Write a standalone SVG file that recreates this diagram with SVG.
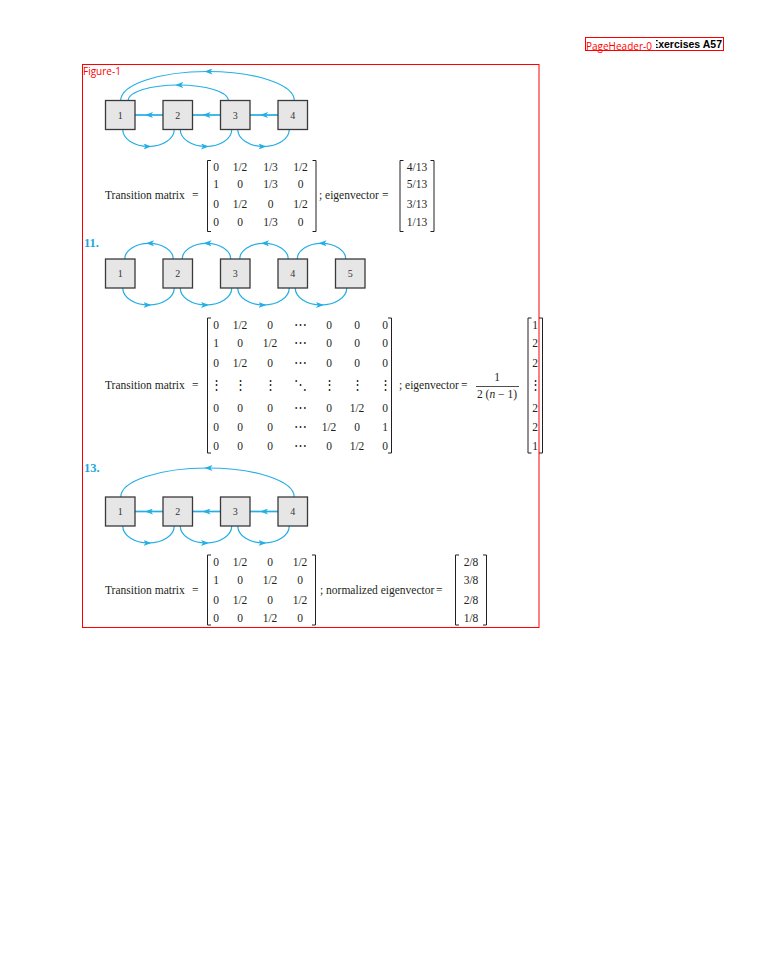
<svg xmlns="http://www.w3.org/2000/svg" width="768" height="960" viewBox="0 0 768 960">
<defs>
<style>
.bx{fill:#e6e6e6;stroke:#3a3a3a;stroke-width:1.3}
.nl{font-family:"Liberation Serif","DejaVu Serif",serif;font-size:10px;fill:#333;text-anchor:middle}
.cn{fill:none;stroke:#23aee6;stroke-width:1.2;marker-mid:url(#ah)}
.st{fill:none;stroke:#23aee6;stroke-width:1.7;marker-mid:url(#ah)}
.m{font-family:"Liberation Serif","DejaVu Serif",serif;font-size:11.5px;fill:#231f20}
.c{text-anchor:middle}
.dt{font-family:"DejaVu Serif","Liberation Serif",serif;font-size:13px;fill:#231f20;text-anchor:middle}
.br{fill:none;stroke:#231f20;stroke-width:1}
.num{font-family:"Liberation Serif","DejaVu Serif",serif;font-size:12.5px;font-weight:bold;fill:#1ca7e0}
.ann{fill:none;stroke:#ff0000;stroke-width:1}
.al{font-family:"Open Sans","DejaVu Sans",sans-serif;font-size:10px;fill:#ff0000}
</style>
<marker id="ah" viewBox="0 0 8 6" refX="5" refY="3" markerWidth="8" markerHeight="6" markerUnits="userSpaceOnUse" orient="auto">
<path d="M0,0 L8,3 L0,6 L2,3 Z" fill="#23aee6"/>
</marker>
</defs>
<rect width="768" height="960" fill="#ffffff"/>

<!-- page header -->
<g id="page-header">
<text x="722" y="47.5" font-family="Liberation Sans, Arial, sans-serif" font-size="10.5" font-weight="bold" fill="#000" text-anchor="end">Exercises  A57</text>
<rect x="586" y="40" width="70" height="12" fill="#ffffff"/>
<text class="al" x="586" y="50">PageHeader-0</text>
<rect class="ann" x="585.5" y="37.5" width="138" height="13"/>
</g>

<!-- figure frame -->
<g id="figure-frame">
<rect class="ann" x="82.5" y="64.5" width="456.5" height="563"/>
<text class="al" x="83" y="75">Figure-1</text>
</g>

<!-- connectors -->
<g id="connectors">
<!-- graph 1 -->
<path class="cn" d="M122.75,129.5 C122.75,138.9 134.3,146.5 148.5,146.5 C162.7,146.5 174.25,138.9 174.25,129.5"/>
<path class="cn" d="M180.25,129.5 C180.25,138.9 191.8,146.5 206,146.5 C220.2,146.5 231.75,138.9 231.75,129.5"/>
<path class="cn" d="M237.75,129.5 C237.75,138.9 249.3,146.5 263.5,146.5 C277.7,146.5 289.25,138.9 289.25,129.5"/>
<path class="st" d="M278,115 L263,115 L250,115"/>
<path class="st" d="M220.5,115 L205.5,115 L192.5,115"/>
<path class="st" d="M163,115 L148,115 L135,115"/>
<path class="cn" d="M294.25,100.5 C294.25,84.5 255.4,71.5 207.5,71.5 C159.6,71.5 120.75,84.5 120.75,100.5"/>
<path class="cn" d="M228.25,100.5 C228.25,91.9 205.9,85 178.25,85 C150.6,85 128.25,91.9 128.25,100.5"/>
<!-- graph 2 -->
<path class="cn" d="M173.25,259 C173.25,250.3 162.4,243.3 149,243.3 C135.6,243.3 124.75,250.3 124.75,259"/>
<path class="cn" d="M230.75,259 C230.75,250.3 219.9,243.3 206.5,243.3 C193.1,243.3 182.25,250.3 182.25,259"/>
<path class="cn" d="M288.25,259 C288.25,250.3 277.4,243.3 264,243.3 C250.6,243.3 239.75,250.3 239.75,259"/>
<path class="cn" d="M345.75,259 C345.75,250.3 334.9,243.3 321.5,243.3 C308.1,243.3 297.25,250.3 297.25,259"/>
<path class="cn" d="M122.75,288 C122.75,297.4 134.3,305 148.5,305 C162.7,305 174.25,297.4 174.25,288"/>
<path class="cn" d="M180.25,288 C180.25,297.4 191.8,305 206,305 C220.2,305 231.75,297.4 231.75,288"/>
<path class="cn" d="M237.75,288 C237.75,297.4 249.3,305 263.5,305 C277.7,305 289.25,297.4 289.25,288"/>
<path class="cn" d="M295.25,288 C295.25,297.4 306.8,305 321,305 C335.2,305 346.75,297.4 346.75,288"/>
<!-- graph 3 -->
<path class="cn" d="M122.75,526 C122.75,535.4 134.3,543 148.5,543 C162.7,543 174.25,535.4 174.25,526"/>
<path class="cn" d="M180.25,526 C180.25,535.4 191.8,543 206,543 C220.2,543 231.75,535.4 231.75,526"/>
<path class="cn" d="M237.75,526 C237.75,535.4 249.3,543 263.5,543 C277.7,543 289.25,535.4 289.25,526"/>
<path class="st" d="M278,511.5 L263,511.5 L250,511.5"/>
<path class="st" d="M220.5,511.5 L205.5,511.5 L192.5,511.5"/>
<path class="st" d="M163,511.5 L148,511.5 L135,511.5"/>
<path class="cn" d="M294.25,497 C294.25,481 255.4,468 207.5,468 C159.6,468 120.75,481 120.75,497"/>
</g>

<!-- graph 1 nodes -->
<g id="g1-n1"><rect class="bx" x="105.5" y="100.5" width="29.5" height="29"/><text class="nl" x="120.25" y="118.5">1</text></g>
<g id="g1-n2"><rect class="bx" x="163" y="100.5" width="29.5" height="29"/><text class="nl" x="177.75" y="118.5">2</text></g>
<g id="g1-n3"><rect class="bx" x="220.5" y="100.5" width="29.5" height="29"/><text class="nl" x="235.25" y="118.5">3</text></g>
<g id="g1-n4"><rect class="bx" x="278" y="100.5" width="29.5" height="29"/><text class="nl" x="292.75" y="118.5">4</text></g>

<!-- matrix 1 -->
<g id="matrix-1">
<text class="m" x="105" y="198.5">Transition matrix</text><text class="m" x="192" y="198.5">=</text>
<path class="br" d="M211,160.5 H207.5 V231.5 H211"/>
<path class="br" d="M312.5,160.5 H316 V231.5 H312.5"/>
<text class="m c" x="216" y="171">0</text><text class="m c" x="240" y="171">1/2</text><text class="m c" x="270.5" y="171">1/3</text><text class="m c" x="300.5" y="171">1/2</text>
<text class="m c" x="216" y="188">1</text><text class="m c" x="240" y="188">0</text><text class="m c" x="270.5" y="188">1/3</text><text class="m c" x="300.5" y="188">0</text>
<text class="m c" x="216" y="208">0</text><text class="m c" x="240" y="208">1/2</text><text class="m c" x="270.5" y="208">0</text><text class="m c" x="300.5" y="208">1/2</text>
<text class="m c" x="216" y="225.5">0</text><text class="m c" x="240" y="225.5">0</text><text class="m c" x="270.5" y="225.5">1/3</text><text class="m c" x="300.5" y="225.5">0</text>
<text class="m" x="319" y="198.5">; eigenvector</text><text class="m" x="382" y="198.5">=</text>
<path class="br" d="M403.5,160.5 H400 V231.5 H403.5"/>
<path class="br" d="M430.5,160.5 H434 V231.5 H430.5"/>
<text class="m c" x="417" y="171">4/13</text>
<text class="m c" x="417" y="188">5/13</text>
<text class="m c" x="417" y="208">3/13</text>
<text class="m c" x="417" y="225.5">1/13</text>
</g>

<!-- exercise 11 -->
<text class="num" x="84" y="247">11.</text>
<g id="g2-n1"><rect class="bx" x="105.5" y="259" width="29.5" height="29"/><text class="nl" x="120.25" y="277">1</text></g>
<g id="g2-n2"><rect class="bx" x="163" y="259" width="29.5" height="29"/><text class="nl" x="177.75" y="277">2</text></g>
<g id="g2-n3"><rect class="bx" x="220.5" y="259" width="29.5" height="29"/><text class="nl" x="235.25" y="277">3</text></g>
<g id="g2-n4"><rect class="bx" x="278" y="259" width="29.5" height="29"/><text class="nl" x="292.75" y="277">4</text></g>
<g id="g2-n5"><rect class="bx" x="335.5" y="259" width="29.5" height="29"/><text class="nl" x="350.25" y="277">5</text></g>

<!-- matrix 2 -->
<g id="matrix-2">
<text class="m" x="105" y="389">Transition matrix</text><text class="m" x="192" y="389">=</text>
<path class="br" d="M211,318 H207.5 V453 H211"/>
<path class="br" d="M388,318 H391.5 V453 H388"/>
<text class="m c" x="216" y="329">0</text><text class="m c" x="240" y="329">1/2</text><text class="m c" x="270" y="329">0</text><text class="dt" x="300" y="329">⋯</text><text class="m c" x="329" y="329">0</text><text class="m c" x="357" y="329">0</text><text class="m c" x="385" y="329">0</text>
<text class="m c" x="216" y="346.5">1</text><text class="m c" x="240" y="346.5">0</text><text class="m c" x="270" y="346.5">1/2</text><text class="dt" x="300" y="346.5">⋯</text><text class="m c" x="329" y="346.5">0</text><text class="m c" x="357" y="346.5">0</text><text class="m c" x="385" y="346.5">0</text>
<text class="m c" x="216" y="366.5">0</text><text class="m c" x="240" y="366.5">1/2</text><text class="m c" x="270" y="366.5">0</text><text class="dt" x="300" y="366.5">⋯</text><text class="m c" x="329" y="366.5">0</text><text class="m c" x="357" y="366.5">0</text><text class="m c" x="385" y="366.5">0</text>
<text class="dt" x="216" y="389">⋮</text><text class="dt" x="240" y="389">⋮</text><text class="dt" x="270" y="389">⋮</text><text class="dt" x="300" y="389">⋱</text><text class="dt" x="329" y="389">⋮</text><text class="dt" x="357" y="389">⋮</text><text class="dt" x="385" y="389">⋮</text>
<text class="m c" x="216" y="411.5">0</text><text class="m c" x="240" y="411.5">0</text><text class="m c" x="270" y="411.5">0</text><text class="dt" x="300" y="411.5">⋯</text><text class="m c" x="329" y="411.5">0</text><text class="m c" x="357" y="411.5">1/2</text><text class="m c" x="385" y="411.5">0</text>
<text class="m c" x="216" y="431">0</text><text class="m c" x="240" y="431">0</text><text class="m c" x="270" y="431">0</text><text class="dt" x="300" y="431">⋯</text><text class="m c" x="329" y="431">1/2</text><text class="m c" x="357" y="431">0</text><text class="m c" x="385" y="431">1</text>
<text class="m c" x="216" y="450">0</text><text class="m c" x="240" y="450">0</text><text class="m c" x="270" y="450">0</text><text class="dt" x="300" y="450">⋯</text><text class="m c" x="329" y="450">0</text><text class="m c" x="357" y="450">1/2</text><text class="m c" x="385" y="450">0</text>
<text class="m" x="399" y="389">; eigenvector</text><text class="m" x="461" y="389">=</text>
<text class="m c" x="497" y="381">1</text>
<line x1="476" y1="386.5" x2="519" y2="386.5" stroke="#231f20" stroke-width="0.8"/>
<text class="m c" x="497" y="398">2 (<tspan font-style="italic">n</tspan> − 1)</text>
<path class="br" d="M531.5,318 H528 V453 H531.5"/>
<path class="br" d="M539,318 H542.5 V453 H539"/>
<text class="m c" x="535" y="329">1</text>
<text class="m c" x="535" y="346.5">2</text>
<text class="m c" x="535" y="366.5">2</text>
<text class="dt" x="535" y="389">⋮</text>
<text class="m c" x="535" y="411.5">2</text>
<text class="m c" x="535" y="431">2</text>
<text class="m c" x="535" y="450">1</text>
</g>

<!-- exercise 13 -->
<text class="num" x="84" y="472">13.</text>
<g id="g3-n1"><rect class="bx" x="105.5" y="497" width="29.5" height="29"/><text class="nl" x="120.25" y="515">1</text></g>
<g id="g3-n2"><rect class="bx" x="163" y="497" width="29.5" height="29"/><text class="nl" x="177.75" y="515">2</text></g>
<g id="g3-n3"><rect class="bx" x="220.5" y="497" width="29.5" height="29"/><text class="nl" x="235.25" y="515">3</text></g>
<g id="g3-n4"><rect class="bx" x="278" y="497" width="29.5" height="29"/><text class="nl" x="292.75" y="515">4</text></g>

<!-- matrix 3 -->
<g id="matrix-3">
<text class="m" x="105" y="594">Transition matrix</text><text class="m" x="192" y="594">=</text>
<path class="br" d="M211,555 H207.5 V625 H211"/>
<path class="br" d="M312,555 H315.5 V625 H312"/>
<text class="m c" x="216" y="566">0</text><text class="m c" x="240" y="566">1/2</text><text class="m c" x="270" y="566">0</text><text class="m c" x="300" y="566">1/2</text>
<text class="m c" x="216" y="583.5">1</text><text class="m c" x="240" y="583.5">0</text><text class="m c" x="270" y="583.5">1/2</text><text class="m c" x="300" y="583.5">0</text>
<text class="m c" x="216" y="604">0</text><text class="m c" x="240" y="604">1/2</text><text class="m c" x="270" y="604">0</text><text class="m c" x="300" y="604">1/2</text>
<text class="m c" x="216" y="621.5">0</text><text class="m c" x="240" y="621.5">0</text><text class="m c" x="270" y="621.5">1/2</text><text class="m c" x="300" y="621.5">0</text>
<text class="m" x="320" y="594">; normalized eigenvector</text><text class="m" x="436" y="594">=</text>
<path class="br" d="M459,555 H455.5 V625 H459"/>
<path class="br" d="M483,555 H486.5 V625 H483"/>
<text class="m c" x="471" y="566">2/8</text>
<text class="m c" x="471" y="583.5">3/8</text>
<text class="m c" x="471" y="604">2/8</text>
<text class="m c" x="471" y="621.5">1/8</text>
</g>
</svg>
